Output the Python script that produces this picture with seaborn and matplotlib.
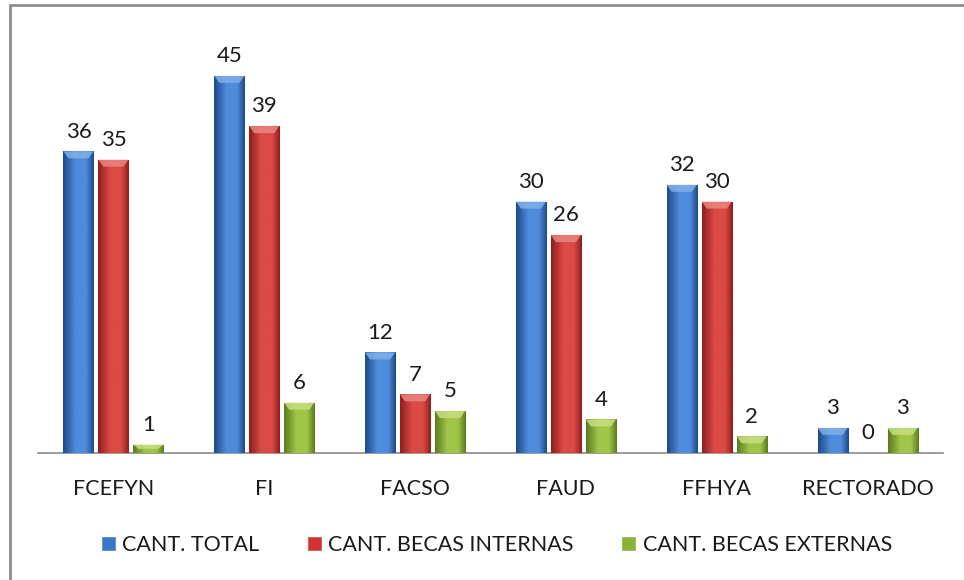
import numpy as np
import pandas as pd
import matplotlib
matplotlib.use('Agg')
import matplotlib.pyplot as plt
import seaborn as sns
from matplotlib.colors import LinearSegmentedColormap
from matplotlib.lines import Line2D
from matplotlib.patches import Polygon

categorias = ['FCEFYN', 'FI', 'FACSO', 'FAUD', 'FFHYA', 'RECTORADO']
series = ['CANT. TOTAL', 'CANT. BECAS INTERNAS', 'CANT. BECAS EXTERNAS']
cant_total = [36, 45, 12, 30, 32, 3]
becas_internas = [35, 39, 7, 26, 30, 0]
becas_externas = [1, 6, 5, 4, 2, 3]

colores = ['#3a76c6', '#d0332f', '#8ab236']
# oscuro borde, claro centro, tapa clara
degradados = {
    '#3a76c6': ('#1d4a8a', '#4f8cdb', '#7fb0ea'),
    '#d0332f': ('#8f1e1d', '#dc4a45', '#ec8580'),
    '#8ab236': ('#5c7b1d', '#9fc648', '#c6df80'),
}

df = pd.DataFrame({
    'facultad': categorias * 3,
    'cantidad': cant_total + becas_internas + becas_externas,
    'serie': np.repeat(series, len(categorias)),
})

sns.set_style('white')
plt.rcParams['font.family'] = ['Lato', 'DejaVu Sans']

fig = plt.figure(figsize=(9.64, 5.8), dpi=100)
ax = fig.add_axes([38 / 964, 127 / 580, (943 - 38) / 964, (453 - 34) / 580])

sns.barplot(data=df, x='facultad', y='cantidad', hue='serie', palette=colores,
            width=0.695, gap=0.14, ax=ax, legend=True, saturation=1)

ax.set_ylim(0, 50)
ax.set_xlim(-0.5, len(categorias) - 0.5)

# degradado tipo Excel en cada barra
px_y = 50 / 419.0
px_x = 1 / 151.0
for cont, col in zip(ax.containers, colores):
    oscuro, claro, tapa = degradados[col]
    cmap = LinearSegmentedColormap.from_list('g', [(0, oscuro), (0.4, claro), (0.75, claro), (1, oscuro)])
    for p in cont.patches:
        h = p.get_height()
        if h <= 0:
            continue
        x0 = p.get_x()
        w = p.get_width()
        grad = np.linspace(0, 1, 64).reshape(1, -1)
        im = ax.imshow(grad, cmap=cmap, aspect='auto', extent=(x0, x0 + w, 0, h),
                       zorder=3, interpolation='bilinear')
        im.set_clip_path(p)
        bh = min(7 * px_y, h * 0.5)
        bd = 5 * px_x
        tapa_poly = Polygon([(x0, h), (x0 + w, h), (x0 + w - bd, h - bh), (x0 + bd, h - bh)],
                            closed=True, facecolor=tapa, edgecolor='none', alpha=0.85, zorder=4)
        ax.add_patch(tapa_poly)
    ax.bar_label(cont, padding=7, fontsize=16, color='#1a1a1a')

ax.set_xlabel('')
ax.set_ylabel('')
ax.set_yticks([])
for s in ['left', 'right', 'top']:
    ax.spines[s].set_visible(False)
ax.spines['bottom'].set_color('#8a8a8a')
ax.spines['bottom'].set_linewidth(1.2)
ax.tick_params(axis='x', length=0, pad=19, labelsize=15.5, labelcolor='#1a1a1a')

handles, labels = ax.get_legend_handles_labels()
ax.get_legend().remove()
fig.legend(handles, labels, loc='center', bbox_to_anchor=(0.515, 1 - 545 / 580), ncol=3,
           frameon=False, fontsize=15.5, handlelength=0.7, handleheight=0.7,
           handletextpad=0.3, columnspacing=2.2, labelcolor='#1a1a1a')

# marco del grafico (solo borde superior e izquierdo visibles)
fig.add_artist(Line2D([10 / 964, 10 / 964], [0, 1 - 5 / 580], color='#8c8c8c', lw=2))
fig.add_artist(Line2D([10 / 964, 1], [1 - 5 / 580, 1 - 5 / 580], color='#8c8c8c', lw=2))

fig.savefig('out.png', dpi=100)
